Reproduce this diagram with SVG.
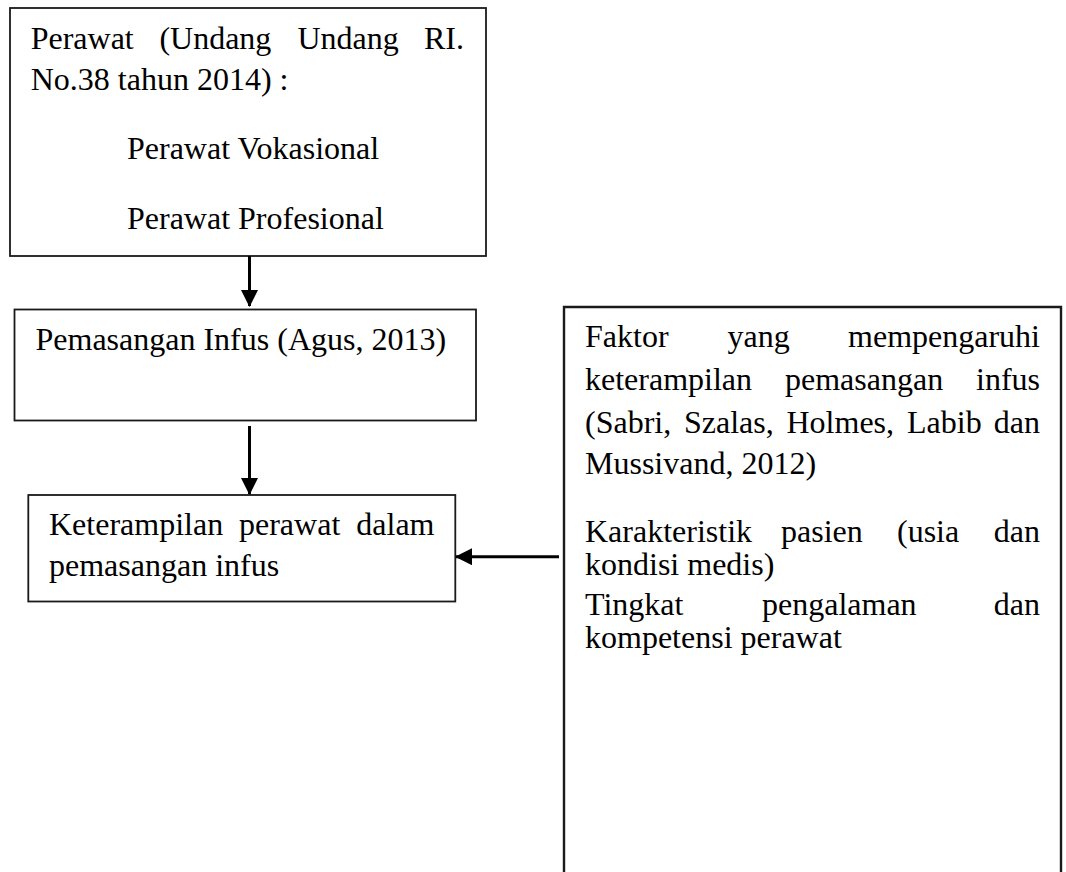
<svg xmlns="http://www.w3.org/2000/svg" width="1066" height="872" viewBox="0 0 1066 872">
<style>
.box{fill:#fff;stroke:#1a1a1a;stroke-width:1.8}
.t{font-family:"Liberation Serif","Times New Roman",serif;font-size:32px;fill:#000}
.e{text-anchor:end}
.conn{stroke:#000;stroke-width:3;fill:none}
</style>
<defs>
<marker id="ah" viewBox="0 0 17 17" refX="16" refY="8.5" markerWidth="17" markerHeight="17" markerUnits="userSpaceOnUse" orient="auto">
<path d="M0,0 L17,8.5 L0,17 Z" fill="#000"/>
</marker>
</defs>
<rect width="1066" height="872" fill="#fff"/>
<g id="node-perawat">
<rect class="box" x="10" y="8" width="476" height="248"/>
<text class="t" y="48.5"><tspan x="30.7">Perawat</tspan><tspan x="159.4">(Undang</tspan><tspan x="297.5">Undang</tspan><tspan x="464" class="e">RI.</tspan></text>
<text class="t" x="30.7" y="90">No.38 tahun 2014) :</text>
<text class="t" x="127" y="158.5">Perawat Vokasional</text>
<text class="t" x="127" y="228.5">Perawat Profesional</text>
</g>
<g id="node-pemasangan">
<rect class="box" x="14.5" y="309.5" width="461.5" height="111"/>
<text class="t" x="35.5" y="350">Pemasangan Infus (Agus, 2013)</text>
</g>
<g id="node-keterampilan">
<rect class="box" x="28.3" y="495" width="427" height="106.5"/>
<text class="t" y="535"><tspan x="49">Keterampilan</tspan><tspan x="239">perawat</tspan><tspan x="434.5" class="e">dalam</tspan></text>
<text class="t" x="49" y="575.5">pemasangan infus</text>
</g>
<g id="node-faktor">
<path d="M564,880 L564,307 L1061,307 L1061,880" fill="#fff" stroke="#1a1a1a" stroke-width="2.4"/>
<text class="t" y="347"><tspan x="585">Faktor</tspan><tspan x="727.5">yang</tspan><tspan x="1040" class="e">mempengaruhi</tspan></text>
<text class="t" y="390"><tspan x="585">keterampilan</tspan><tspan x="785">pemasangan</tspan><tspan x="1040" class="e">infus</tspan></text>
<text class="t" y="433"><tspan x="585">(Sabri,</tspan><tspan x="684">Szalas,</tspan><tspan x="786.5">Holmes,</tspan><tspan x="907">Labib</tspan><tspan x="1040" class="e">dan</tspan></text>
<text class="t" x="585" y="473.5">Mussivand, 2012)</text>
<text class="t" y="541.7"><tspan x="585">Karakteristik</tspan><tspan x="781">pasien</tspan><tspan x="897">(usia</tspan><tspan x="1040" class="e">dan</tspan></text>
<text class="t" x="585" y="575">kondisi medis)</text>
<text class="t" y="615"><tspan x="585">Tingkat</tspan><tspan x="762">pengalaman</tspan><tspan x="1040" class="e">dan</tspan></text>
<text class="t" x="585" y="648">kompetensi perawat</text>
</g>
<g id="connectors">
<line class="conn" x1="249.5" y1="256" x2="249.5" y2="306" marker-end="url(#ah)"/>
<line class="conn" x1="249.5" y1="426" x2="249.5" y2="494" marker-end="url(#ah)"/>
<line class="conn" x1="559" y1="556.7" x2="456" y2="556.7" marker-end="url(#ah)"/>
</g>
</svg>
